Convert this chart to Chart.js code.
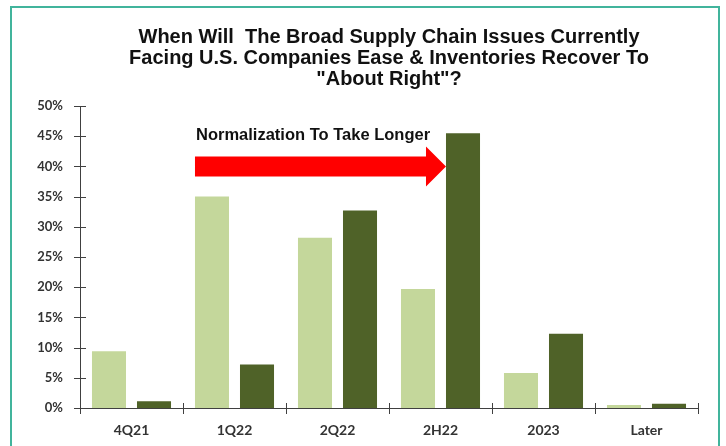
<!DOCTYPE html>
<html>
<head>
<meta charset="utf-8">
<script src="https://cdn.jsdelivr.net/npm/chart.js@4"></script>
<style>
  html, body { margin: 0; padding: 0; background: #fff; overflow: hidden; }
  #wrap { position: relative; width: 726px; height: 446px; }
  #frame {
    position: absolute; left: 10px; top: 6px; width: 706px; height: 470px;
    border: 2.5px solid #41b49c; pointer-events: none;
  }
</style>
</head>
<body>
<div id="wrap">
  <canvas id="chart" width="726" height="446"></canvas>
  <div id="frame"></div>
</div>
<script>
const categories = ['4Q21', '1Q22', '2Q22', '2H22', '2023', 'Later'];
const previousSurvey = [9.4, 35.0, 28.2, 19.7, 5.8, 0.5];
const latestSurvey = [1.1, 7.2, 32.7, 45.5, 12.3, 0.7];
const yMin = 0;
const yMax = 50;
const yStep = 5;
const titleLines = [
    'When Will  The Broad Supply Chain Issues Currently',
    'Facing U.S. Companies Ease & Inventories Recover To',
    '"About Right"?'
];
const arrowLabel = 'Normalization To Take Longer';
const arrowLevel = 40; // arrow centre line, in % on the y axis

const axisColor = '#404040';

// ticks that cross the axis lines, like the excel original
const crossTicks = {
    id: 'crossTicks',
    afterDatasetsDraw(chart) {
        const ctx = chart.ctx;
        const x = chart.scales.x;
        const y = chart.scales.y;
        ctx.save();
        ctx.strokeStyle = axisColor;
        ctx.lineWidth = 1;
        ctx.beginPath();
        y.ticks.forEach((t, i) => {
            const py = Math.round(y.getPixelForTick(i)) + 0.5;
            ctx.moveTo(x.left - 6, py);
            ctx.lineTo(x.left + 6, py);
        });
        const step = (x.right - x.left) / categories.length;
        for (let i = 0; i <= categories.length; i++) {
            const px = Math.round(x.left + i * step) + 0.5;
            ctx.moveTo(px, y.bottom - 5);
            ctx.lineTo(px, y.bottom + 6);
        }
        ctx.stroke();
        ctx.restore();
    }
};

// red arrow from the 1Q22 bars over to the 2H22 bars
const arrowNote = {
    id: 'arrowNote',
    afterDatasetsDraw(chart) {
        const ctx = chart.ctx;
        const y = chart.scales.y;
        const start = chart.getDatasetMeta(0).data[1];
        const end = chart.getDatasetMeta(1).data[3];
        const x0 = start.x - start.width / 2;
        const tip = end.x - end.width / 2;
        const cy = y.getPixelForValue(arrowLevel);
        const headLen = 20;
        ctx.save();
        ctx.fillStyle = '#ff0000';
        ctx.beginPath();
        ctx.moveTo(x0, cy - 10);
        ctx.lineTo(tip - headLen, cy - 10);
        ctx.lineTo(tip - headLen, cy - 20);
        ctx.lineTo(tip, cy);
        ctx.lineTo(tip - headLen, cy + 20);
        ctx.lineTo(tip - headLen, cy + 10);
        ctx.lineTo(x0, cy + 10);
        ctx.closePath();
        ctx.fill();

        ctx.fillStyle = '#111';
        ctx.font = 'bold 16.5px "Liberation Sans", Arial, sans-serif';
        ctx.textBaseline = 'middle';
        ctx.textAlign = 'left';
        ctx.fillText(arrowLabel, x0 + 1, y.getPixelForValue(45.2));
        ctx.restore();
    }
};

new Chart(document.getElementById('chart'), {
    type: 'bar',
    data: {
        labels: categories,
        datasets: [{
            label: 'Previous Survey',
            data: previousSurvey,
            backgroundColor: '#c4d79b',
            categoryPercentage: 0.874,
            barPercentage: 0.756
        }, {
            label: 'Latest Survey',
            data: latestSurvey,
            backgroundColor: '#4f6228',
            categoryPercentage: 0.874,
            barPercentage: 0.756
        }]
    },
    options: {
        responsive: false,
        animation: false,
        layout: { padding: { left: 0, right: 28, top: 0, bottom: 0 } },
        plugins: {
            legend: { display: false },
            tooltip: { enabled: false },
            title: {
                display: true,
                fullSize: false,
                text: titleLines,
                color: '#111',
                font: { family: '"Liberation Sans", Arial, sans-serif', size: 20, weight: 'bold', lineHeight: 1.05 },
                padding: { top: 27, bottom: 16 }
            }
        },
        scales: {
            x: {
                grid: { display: false, drawTicks: false },
                border: { display: true, color: axisColor, width: 1 },
                ticks: {
                    color: '#333',
                    padding: 14,
                    font: { family: 'Lato, "Liberation Sans", sans-serif', size: 14, weight: 'bold' }
                },
                afterFit(scale) { scale.height = 38; }
            },
            y: {
                min: yMin,
                max: yMax,
                grid: { display: false, drawTicks: false },
                border: { display: true, color: axisColor, width: 1 },
                ticks: {
                    stepSize: yStep,
                    color: '#333',
                    padding: 17,
                    font: { family: 'Lato, "Liberation Sans", sans-serif', size: 13, weight: 'bold' },
                    callback: v => v + '%'
                },
                afterFit(scale) { scale.width = 80; }
            }
        }
    },
    plugins: [crossTicks, arrowNote]
});
</script>
</body>
</html>
